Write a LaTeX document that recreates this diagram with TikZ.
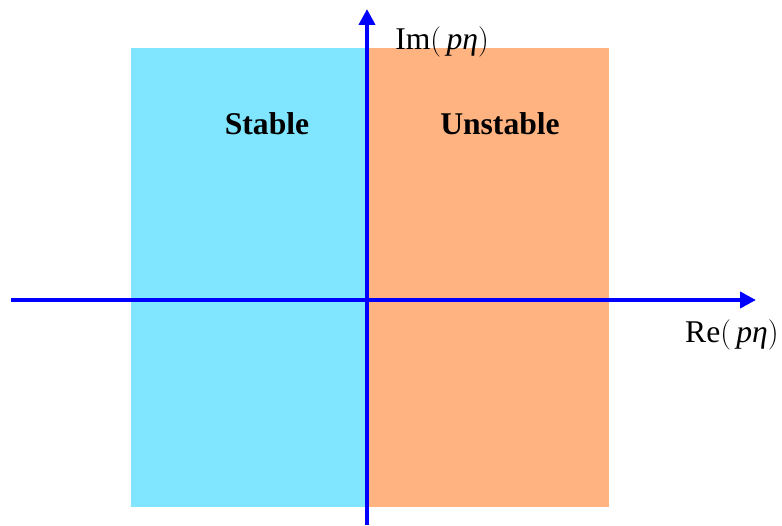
\documentclass[tikz,border=0pt]{standalone}
\usepackage{fontspec}
\setmainfont{Liberation Serif}
\usetikzlibrary{arrows.meta}

\definecolor{stablecol}{HTML}{80E5FF}
\definecolor{unstablecol}{HTML}{FFB380}
\definecolor{axiscol}{HTML}{0000FF}

\tikzset{
    axisline/.style={axiscol, line width=2.2pt, -{Triangle[length=9pt,width=9pt]}},
    regionlabel/.style={font=\fontsize{18}{20}\selectfont\bfseries},
    axislabel/.style={font=\fontsize{18}{20}\selectfont, inner sep=0pt}
}

\begin{document}
\begin{tikzpicture}[x=0.02cm, y=-0.02cm]
    \useasboundingbox (0,0) rectangle (782,525);
    % 安定・不安定の領域
    \fill[stablecol] (131,48) rectangle (367,507);
    \fill[unstablecol] (367,48) rectangle (609,507);
    % 軸の端点
    \coordinate (xstart) at (11,300);
    \coordinate (xend) at (756,300);
    \coordinate (ystart) at (367,525);
    \coordinate (yend) at (367,9);
    % 複素平面の軸
    \draw[axisline] (xstart) -- (xend);
    \draw[axisline] (ystart) -- (yend);
    % ラベル
    \node[regionlabel] (stable) at (267,124) {Stable};
    \node[regionlabel] (unstable) at (500,124) {Unstable};
    \node[axislabel, anchor=west] (imlabel) at (395,42) {Im$\Bigl($\,\textit{pη}$\Bigr)$};
    \node[axislabel, anchor=east] (relabel) at (779,335) {Re$\Bigl($\,\textit{pη}$\Bigr)$};

\end{tikzpicture}
\end{document}
